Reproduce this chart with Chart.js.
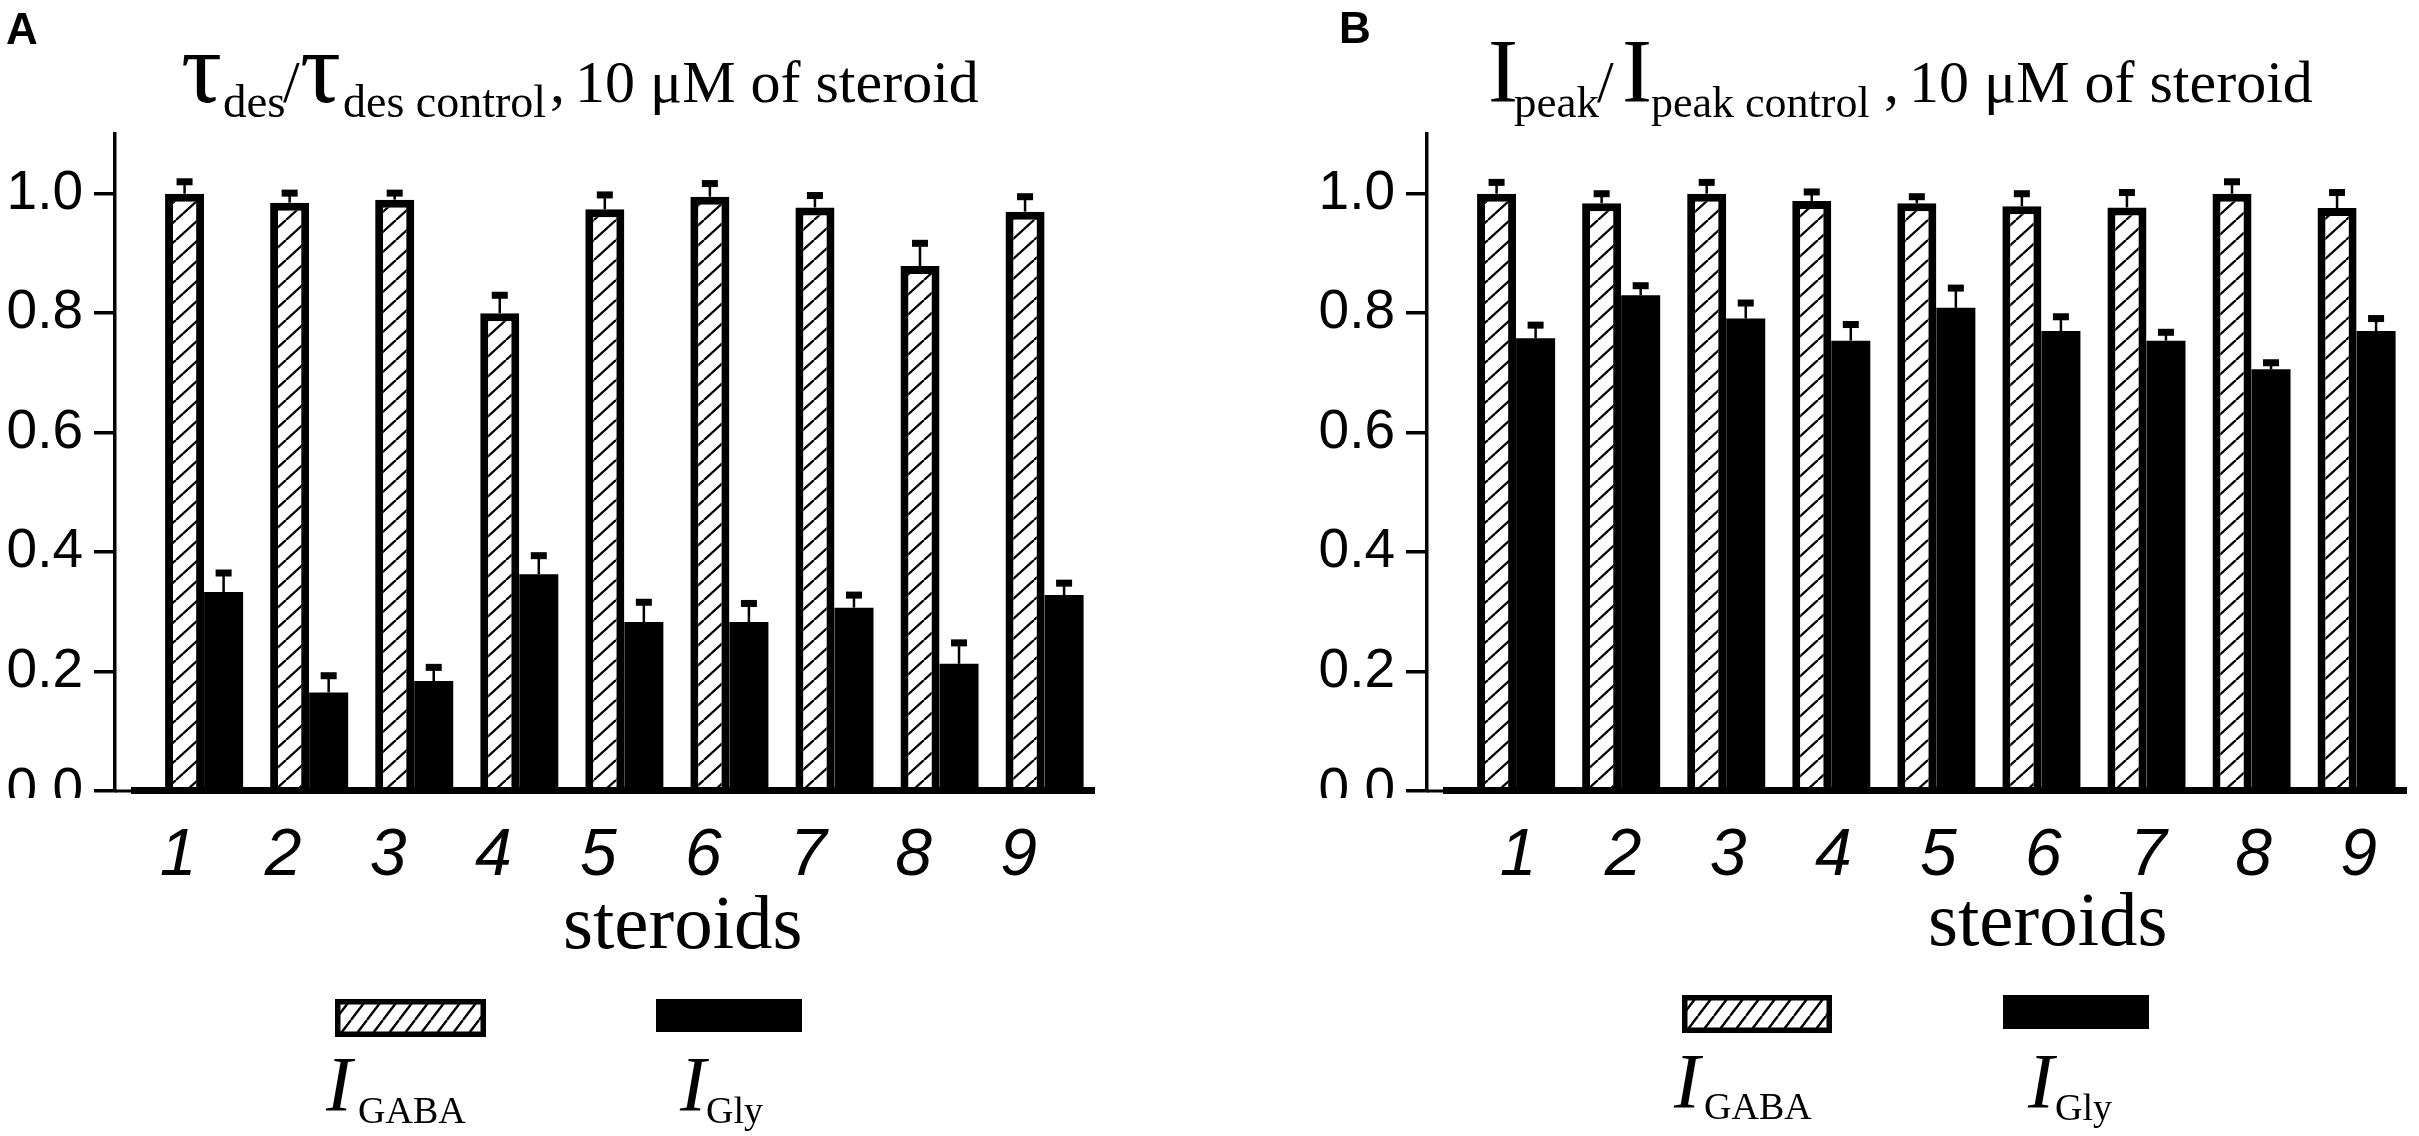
<!DOCTYPE html>
<html lang="en">
<head>
<meta charset="utf-8">
<title>Steroid effects on GABA and glycine receptor currents</title>
<script src="https://cdn.jsdelivr.net/npm/chart.js@4.4.1/dist/chart.umd.min.js"></script>
<style>
  html, body { margin:0; padding:0; background:#fff; }
  #page { position:relative; width:2419px; height:1136px; overflow:hidden; background:#fff; }
  .panel { position:absolute; top:0; width:1107px; height:1136px; }
  .panel canvas { position:absolute; left:0; top:0; }
  #overlay { position:absolute; left:0; top:0; pointer-events:none; }
  .lgbox { position:absolute; }
</style>
</head>
<body>
<div id="page">
  <div class="panel" style="left:0px"><canvas id="chartA" width="1107" height="1136"></canvas></div>
  <div class="panel" style="left:1312px"><canvas id="chartB" width="1107" height="1136"></canvas></div>
  <div id="legends"></div>
  <svg id="overlay" width="2419" height="1136" xmlns="http://www.w3.org/2000/svg">
    <g font-family="Liberation Sans, Arial, sans-serif" font-weight="bold" font-size="44" fill="#000">
      <text x="6" y="44">A</text>
      <text x="1339" y="43">B</text>
    </g>
    <text font-family="Liberation Serif, 'Times New Roman', serif" fill="#000"><tspan x="181" y="101.5" font-size="102">τ</tspan><tspan x="223" y="117" font-size="47">des</tspan><tspan x="283" y="101.5" font-size="60">/</tspan><tspan x="300" y="101.5" font-size="102">τ</tspan><tspan x="343" y="117" font-size="46">des control</tspan><tspan x="550" y="101.5" font-size="60">,</tspan><tspan x="575" y="101.5" font-size="60">10 μM of steroid</tspan></text>
    <text font-family="Liberation Serif, 'Times New Roman', serif" fill="#000"><tspan x="1488" y="101.5" font-size="90">I</tspan><tspan x="1514" y="117" font-size="45">peak</tspan><tspan x="1597" y="101.5" font-size="60">/</tspan><tspan x="1622" y="101.5" font-size="90">I</tspan><tspan x="1651" y="117" font-size="44">peak control</tspan><tspan x="1884" y="101.5" font-size="60">,</tspan><tspan x="1909" y="101.5" font-size="60">10 μM of steroid</tspan></text>
    <g id="axisTitles" font-family="Liberation Serif, 'Times New Roman', serif" font-size="77" fill="#000"></g>
    <g id="legendText" font-family="Liberation Serif, 'Times New Roman', serif" fill="#000"></g>
  </svg>
</div>
<script>
// ---------------- data ----------------
const steroids = [1, 2, 3, 4, 5, 6, 7, 8, 9];
const seriesNames = ['GABA', 'Gly'];
const yTickValues = [0, 0.2, 0.4, 0.6, 0.8, 1.0];
const xAxisTitle = 'steroids';

// Panel A: tau_des / tau_des control
const tauGABA    = [1.00, 0.985, 0.99, 0.80, 0.974, 0.995, 0.977, 0.879, 0.970];
const tauGABAerr = [0.020, 0.016, 0.011, 0.030, 0.024, 0.022, 0.020, 0.038, 0.025];
const tauGly     = [0.333, 0.165, 0.184, 0.363, 0.283, 0.283, 0.307, 0.213, 0.328];
const tauGlyErr  = [0.032, 0.028, 0.023, 0.031, 0.033, 0.031, 0.021, 0.035, 0.020];

// Panel B: I_peak / I_peak control
const peakGABA    = [1.00, 0.984, 1.00, 0.988, 0.984, 0.979, 0.977, 1.00, 0.976];
const peakGABAerr = [0.019, 0.016, 0.019, 0.015, 0.011, 0.021, 0.025, 0.020, 0.026];
const peakGly     = [0.758, 0.830, 0.791, 0.754, 0.809, 0.770, 0.754, 0.706, 0.770];
const peakGlyErr  = [0.022, 0.016, 0.026, 0.027, 0.033, 0.024, 0.014, 0.011, 0.021];

// ---------------- helpers ----------------
function hatchTile(w, h, lw) {
  const c = document.createElement('canvas');
  c.width = w; c.height = h;
  const g = c.getContext('2d');
  g.fillStyle = '#fff'; g.fillRect(0, 0, w, h);
  g.strokeStyle = '#000'; g.lineWidth = lw;
  g.beginPath();
  g.moveTo(0, h); g.lineTo(w, 0);
  g.moveTo(-w, h); g.lineTo(0, 0);
  g.moveTo(w, h); g.lineTo(2 * w, 0);
  g.stroke();
  return c;
}

const errorBars = {
  id: 'errorBars',
  afterDatasetsDraw(chart) {
    const ctx = chart.ctx, ys = chart.scales.y;
    chart.data.datasets.forEach((ds, di) => {
      const meta = chart.getDatasetMeta(di);
      meta.data.forEach((el, i) => {
        const v = ds.data[i].y, e = ds.errors[i];
        const y0 = ys.getPixelForValue(v), y1 = ys.getPixelForValue(v + e);
        ctx.save();
        ctx.strokeStyle = '#000'; ctx.lineWidth = 2.5;
        ctx.beginPath(); ctx.moveTo(el.x, y0); ctx.lineTo(el.x, y1); ctx.stroke();
        ctx.fillStyle = '#000';
        ctx.fillRect(el.x - 8, y1 - 3.5, 16, 7);
        ctx.restore();
      });
    });
  }
};

const baseline = {
  id: 'baseline',
  afterDatasetsDraw(chart) {
    const { ctx, chartArea: { left, right, bottom } } = chart;
    ctx.save();
    ctx.fillStyle = '#000';
    ctx.fillRect(left, bottom - 1.5, 18, 3);
    ctx.fillRect(left + 16, bottom - 4, right - left - 16, 7);
    ctx.restore();
  },
  afterDraw(chart) {
    // the original figure crops the lower half of the "0.0" label
    const { ctx, chartArea: { left, bottom } } = chart;
    ctx.save();
    ctx.fillStyle = '#fff';
    ctx.fillRect(0, bottom + 7, left - 23, 44);
    ctx.restore();
  }
};

function buildChart(id, gaba, gabaErr, gly, glyErr, labelOffset) {
  const canvas = document.getElementById(id);
  const pattern = canvas.getContext('2d').createPattern(hatchTile(22, 20, 2.3), 'repeat');
  const series = [
    { values: gaba, errors: gabaErr, fill: pattern, border: 8 },
    { values: gly, errors: glyErr, fill: '#000', border: 0 }
  ];
  return new Chart(canvas, {
    type: 'bar',
    data: {
      datasets: series.map((s, k) => ({
        label: 'I' + seriesNames[k],
        data: steroids.map((x, i) => ({ x: x, y: s.values[i] })),
        errors: s.errors,
        backgroundColor: s.fill,
        borderColor: '#000',
        borderWidth: s.border,
        borderSkipped: 'bottom',
        categoryPercentage: 0.743,
        barPercentage: 1
      }))
    },
    options: {
      responsive: false,
      maintainAspectRatio: false,
      animation: false,
      devicePixelRatio: 1,
      layout: { padding: { top: 134, right: 12, bottom: 0, left: 0 } },
      plugins: { legend: { display: false }, tooltip: { enabled: false }, title: { display: false } },
      scales: {
        x: {
          type: 'linear', min: 0.152, max: 9.48, offset: false,
          grid: { display: false }, border: { display: false },
          afterBuildTicks(s) { s.ticks = steroids.map(v => ({ value: v })); },
          afterFit(s) { s.height = 345; },
          ticks: {
            autoSkip: false, maxRotation: 0, minRotation: 0, padding: 18, labelOffset: labelOffset,
            color: '#000', font: { family: 'Liberation Sans', size: 66, style: 'italic' },
            callback: v => String(v)
          }
        },
        y: {
          min: 0, max: 1.1,
          afterBuildTicks(s) { s.ticks = yTickValues.map(v => ({ value: v })); },
          afterFit(s) { s.width = 115; },
          grid: { drawOnChartArea: false, drawTicks: true, tickLength: 21, lineWidth: 3.5, color: '#000' },
          border: { display: true, width: 3.5, color: '#000' },
          ticks: { padding: 11, color: '#000', font: { family: 'Liberation Sans', size: 55 }, callback: v => Number(v).toFixed(1) }
        }
      }
    },
    plugins: [errorBars, baseline]
  });
}

const chartA = buildChart('chartA', tauGABA, tauGABAerr, tauGly, tauGlyErr, -26);
const chartB = buildChart('chartB', peakGABA, peakGABAerr, peakGly, peakGlyErr, 2);

// ---------------- axis titles & legends ----------------
const SVGNS = 'http://www.w3.org/2000/svg';
const axisTitlePos = [[563, 948], [1928, 945]];
axisTitlePos.forEach(p => {
  const t = document.createElementNS(SVGNS, 'text');
  t.setAttribute('x', p[0]); t.setAttribute('y', p[1]);
  t.textContent = xAxisTitle;
  document.getElementById('axisTitles').appendChild(t);
});

const legendLayout = [
  { chart: chartA, boxes: [[335, 999, 151, 38], [656, 999, 146, 33]], text: [[326, 1110, 358, 1123], [680, 1110, 706, 1123]] },
  { chart: chartB, boxes: [[1682, 995, 150, 38], [2003, 995, 146, 34]], text: [[1674, 1107, 1704, 1119], [2028, 1107, 2055, 1120]] }
];
legendLayout.forEach(L => {
  L.chart.data.datasets.forEach((ds, k) => {
    const b = L.boxes[k];
    const c = document.createElement('canvas');
    c.className = 'lgbox';
    c.width = b[2]; c.height = b[3];
    c.style.left = b[0] + 'px'; c.style.top = b[1] + 'px';
    const g = c.getContext('2d');
    if (typeof ds.backgroundColor === 'string') {
      g.fillStyle = ds.backgroundColor;
    } else {
      g.fillStyle = g.createPattern(hatchTile(16, 21, 2.4), 'repeat');
    }
    g.fillRect(0, 0, b[2], b[3]);
    if (ds.borderWidth > 0) {
      const bw = 5.5;
      g.strokeStyle = ds.borderColor; g.lineWidth = bw;
      g.strokeRect(bw / 2, bw / 2, b[2] - bw, b[3] - bw);
    }
    document.getElementById('legends').appendChild(c);

    const p = L.text[k];
    const t = document.createElementNS(SVGNS, 'text');
    const t1 = document.createElementNS(SVGNS, 'tspan');
    t1.setAttribute('x', p[0]); t1.setAttribute('y', p[1]);
    t1.setAttribute('font-size', '78'); t1.setAttribute('font-style', 'italic');
    t1.textContent = 'I';
    const t2 = document.createElementNS(SVGNS, 'tspan');
    t2.setAttribute('x', p[2]); t2.setAttribute('y', p[3]);
    t2.setAttribute('font-size', '38');
    t2.textContent = seriesNames[k];
    t.appendChild(t1); t.appendChild(t2);
    document.getElementById('legendText').appendChild(t);
  });
});
</script>
</body>
</html>
